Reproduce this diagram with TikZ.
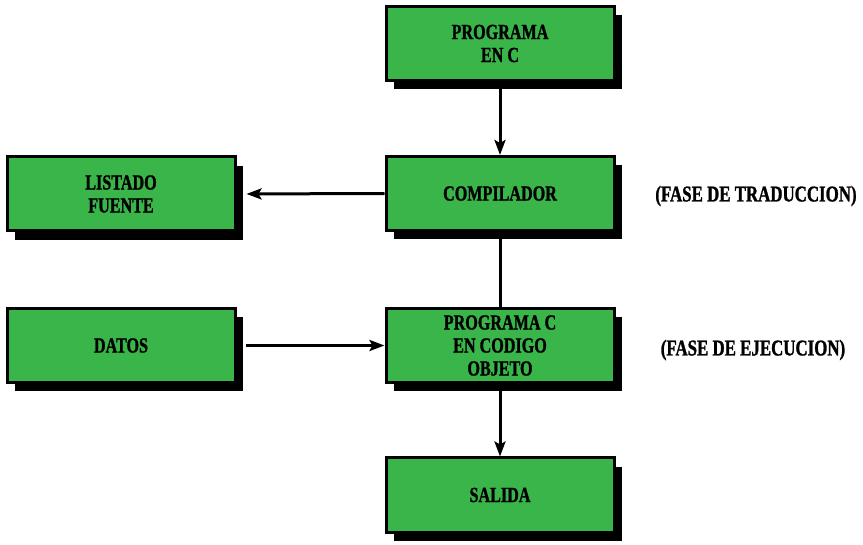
\documentclass[tikz,border=0pt]{standalone}
\usepackage{fontspec}
\newfontfamily\boxfont{Liberation Serif}[FakeStretch=0.75,FakeBold=1.2]
\usetikzlibrary{arrows.meta,shadows}
\definecolor{boxgreen}{RGB}{58,181,74}
\begin{document}
\begin{tikzpicture}[x=1pt,y=-1pt,
  box/.style={draw=black, line width=3pt, fill=boxgreen,
    minimum width=228pt, minimum height=74pt, inner sep=0pt,
    align=center, font=\boxfont\bfseries\fontsize{21.5}{23}\selectfont,
    drop shadow={opacity=1, fill=black, shadow xshift=8pt, shadow yshift=-9pt}},
  lbl/.style={font=\boxfont\bfseries\fontsize{22.5}{24}\selectfont, inner sep=0pt},
  conn/.style={line width=3pt},
  arr/.style={conn, -{Stealth[length=15pt,width=11pt,inset=3pt]}}]
\useasboundingbox (0,0) rectangle (863,545);
\node[box] (A) at (500,43.5) {PROGRAMA\\EN C};
\node[box] (B) at (500,193.5) {COMPILADOR};
\node[box] (L) at (121,194) {LISTADO\\FUENTE};
\node[box] (P) at (500,345.5) {PROGRAMA C\\EN CODIGO\\OBJETO};
\node[box] (D) at (121,345.5) {DATOS};
\node[box] (S) at (500,495) {SALIDA};
\node[lbl] (T1) at (756,196) {(FASE DE TRADUCCION)};
\node[lbl] (T2) at (753,350) {(FASE DE EJECUCION)};
\draw[arr] (A.south) -- (B.north);
\draw[arr, shorten >=10pt] (B.west) -- (L.east);
\draw[conn] (B.south) -- (P.north);
\draw[arr, shorten <=9pt] (D.east) -- (P.west);
\draw[arr] (P.south) -- (S.north);
\end{tikzpicture}
\end{document}
